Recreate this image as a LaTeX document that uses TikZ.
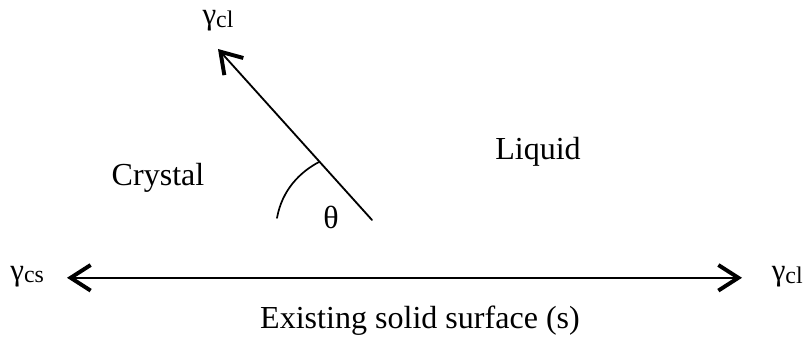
\documentclass[tikz,border=0pt]{standalone}
\usepackage{fontspec}
\setmainfont{Liberation Serif}
\usetikzlibrary{arrows.meta}
\newcommand{\gsub}[1]{γ{\fontsize{17}{20}\selectfont\raisebox{-1.5pt}{#1}}}
\begin{document}
\begin{tikzpicture}[
			line join=round,
			line cap=round,
			mui/.tip={Straight Barb[length=5mm,width=6.4mm,line width=2.8pt]},
			vec/.style={line width=1.6pt, -mui},
			chu/.style={font=\fontsize{22.8}{27}\selectfont},
			kh/.style={font=\fontsize{22}{26}\selectfont}
			]
			\useasboundingbox (0,0) rectangle (20.125,8.725);
			% mat ran
			\coordinate (L) at (1.675,1.78);
			\coordinate (R) at (18.55,1.78);
			\draw[vec, mui-mui] (L) -- (R);
			% duong tiep xuc
			\coordinate (O) at (9.3,3.225);
			\coordinate (T) at (5.45,7.5);
			\draw[vec, line width=1.3pt] (O) -- (T);
			\draw[line width=1.2pt] (6.925,3.275) .. controls (7.05,3.975) and (7.5,4.425) .. (7.975,4.675);
			% nhan
			\node[kh] (gcl) at (5.45,8.2) {\gsub{cl}};
			\node[kh] (gcs) at (0.68,1.8) {\gsub{cs}};
			\node[kh] (gcr) at (19.68,1.8) {\gsub{cl}};
			\node[chu] (tt) at (3.95,4.275) {Crystal};
			\node[chu] (lo) at (13.45,4.925) {Liquid};
			\node[chu] (th) at (8.275,3.3) {θ};
			\node[chu] (be) at (10.5,0.7) {Existing solid surface (s)};
		\end{tikzpicture}
\end{document}
